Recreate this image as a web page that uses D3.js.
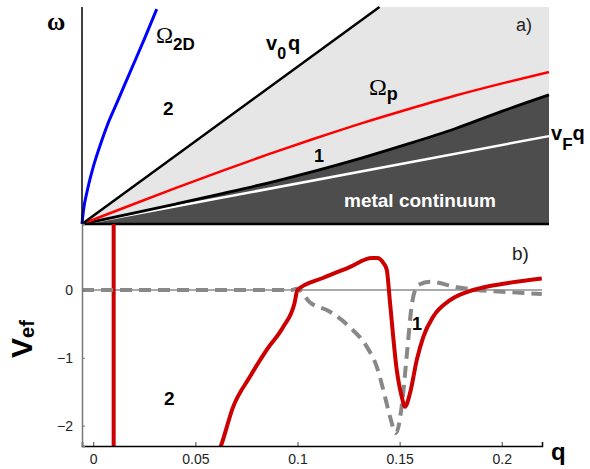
<!DOCTYPE html>
<html>
<head>
<meta charset="utf-8">
<script src="https://cdn.jsdelivr.net/npm/d3@7"></script>
<style>
  body { margin: 0; background: #fff; }
  svg { display: block; font-family: "Liberation Sans", Arial, sans-serif; }
  .tick text { font-size: 14px; fill: #222; }
</style>
</head>
<body>
<svg id="chart" width="590" height="469"></svg>
<script>
// ── Panel a): schematic dispersion (normalised q, omega) ────────────────────
const v0Line     = [[0, 0], [0.637, 1]];
const vFLine     = [[0, 0], [1, 0.405]];
const omegaP     = [[0, 0], [0.1, 0.083], [0.2, 0.165], [0.3, 0.245], [0.4, 0.322],
                    [0.5, 0.395], [0.6, 0.465], [0.7, 0.53], [0.8, 0.592], [0.9, 0.648], [1, 0.70]];
const contEdge   = [[0, 0], [0.1, 0.045], [0.2, 0.092], [0.3, 0.14], [0.4, 0.19],
                    [0.5, 0.245], [0.6, 0.305], [0.7, 0.37], [0.8, 0.44], [0.9, 0.52], [1, 0.595]];
const omega2D    = [[0, 0], [0.003, 0.06], [0.012, 0.16], [0.025, 0.27], [0.04, 0.37],
                    [0.055, 0.46], [0.07, 0.535], [0.09, 0.635], [0.11, 0.735], [0.135, 0.86], [0.16, 0.99]];

// ── Panel b): effective potential vs q ─────────────────────────────────────
const xTicks     = [0, 0.05, 0.1, 0.15, 0.2];
const yTicks     = [-2, -1, 0];
const redCutQ    = 0.01;
const vefRed     = [[0.0605, -2.45], [0.0625, -2.30], [0.0684, -1.73], [0.0767, -1.28], [0.085, -0.88],
                    [0.0929, -0.55], [0.0985, -0.2], [0.1, 0], [0.1127, 0.18], [0.125, 0.33],
                    [0.1365, 0.47], [0.139, 0.47], [0.142, 0.40], [0.1437, 0.30], [0.1453, -0.19],
                    [0.1486, -1.18], [0.151, -1.57], [0.1526, -1.72], [0.1551, -1.52], [0.1584, -1.03],
                    [0.1616, -0.69], [0.1665, -0.39], [0.1747, -0.15], [0.1861, 0.0], [0.2024, 0.10],
                    [0.2196, 0.17]];
const vefGray    = [[-0.0055, 0], [0.05, 0], [0.097, 0], [0.0998, 0.02], [0.106, -0.18], [0.1159, -0.32],
                    [0.1257, -0.55], [0.134, -0.84], [0.1389, -1.14], [0.1429, -1.58], [0.1453, -1.87],
                    [0.1482, -2.11], [0.1512, -1.67], [0.1536, -0.93], [0.1561, -0.19], [0.159, 0.07],
                    [0.1649, 0.12], [0.1781, 0.04], [0.1879, 0.0], [0.2025, -0.03], [0.2196, -0.06]];

const svg = d3.select('#chart');

// ── Scales ─────────────────────────────────────────────────────────────────
const xA = d3.scaleLinear().domain([0, 1]).range([82, 549]);
const yA = d3.scaleLinear().domain([0, 1]).range([224, 7]);
const xB = d3.scaleLinear().domain([-0.0055, 0.2197]).range([82, 542]);
const yB = d3.scaleLinear().domain([-2.30, 0.973]).range([446, 224]);

const lineA = d3.line().x(d => xA(d[0])).y(d => yA(d[1])).curve(d3.curveMonotoneX);
const lineB = d3.line().x(d => xB(d[0])).y(d => yB(d[1])).curve(d3.curveMonotoneX);

svg.append('defs').append('clipPath').attr('id', 'clipB')
  .append('rect')
  .attr('x', xB.range()[0]).attr('y', yB.range()[1])
  .attr('width', xB.range()[1] - xB.range()[0])
  .attr('height', yB.range()[0] - yB.range()[1]);

// ── Panel a) ───────────────────────────────────────────────────────────────
const gA = svg.append('g');

// light region between v0q and continuum edge
const light = [[0, 0], v0Line[1], [1, 1], ...contEdge.slice().reverse()];
gA.append('path')
  .attr('d', d3.line().x(d => xA(d[0])).y(d => yA(d[1]))(light) + 'Z')
  .attr('fill', '#e6e6e6');

// metal continuum
gA.append('path')
  .attr('d', lineA(contEdge) + `L${xA(1)},${yA(0)}Z`)
  .attr('fill', '#4d4d4d');

gA.append('path').attr('d', lineA(vFLine)).attr('fill', 'none')
  .attr('stroke', '#fff').attr('stroke-width', 2.5);
gA.append('path').attr('d', lineA(contEdge)).attr('fill', 'none')
  .attr('stroke', '#000').attr('stroke-width', 2.8);
gA.append('path').attr('d', lineA(omegaP)).attr('fill', 'none')
  .attr('stroke', '#ff0000').attr('stroke-width', 2.5);
gA.append('path').attr('d', lineA(v0Line)).attr('fill', 'none')
  .attr('stroke', '#000').attr('stroke-width', 2.5);
gA.append('path').attr('d', lineA(omega2D)).attr('fill', 'none')
  .attr('stroke', '#0000ff').attr('stroke-width', 3);

// frame of panel a)
gA.append('line').attr('x1', xA(0)).attr('x2', xA(0)).attr('y1', yA(1)).attr('y2', yA(0))
  .attr('stroke', '#000').attr('stroke-width', 1.5);
gA.append('line').attr('x1', xA(0)).attr('x2', xA(1)).attr('y1', yA(0)).attr('y2', yA(0))
  .attr('stroke', '#000').attr('stroke-width', 2.5);

// labels a)
const sym = '"Liberation Serif", "DejaVu Serif", serif';
gA.append('text').attr('x', 47).attr('y', 30).attr('font-family', sym)
  .attr('font-size', 25).attr('font-weight', 'bold').text('ω');

const o2d = gA.append('text').attr('x', 156).attr('y', 43);
o2d.append('tspan').attr('font-family', sym).attr('font-size', 23).text('Ω');
o2d.append('tspan').attr('dy', 7).attr('font-size', 17).attr('font-weight', 'bold').text('2D');

const v0t = gA.append('text').attr('x', 266).attr('y', 50).attr('font-size', 20).attr('font-weight', 'bold');
v0t.append('tspan').text('v');
v0t.append('tspan').attr('dy', 9).attr('font-size', 16).text('0');
v0t.append('tspan').attr('dy', -9).attr('dx', 2).text('q');

const opt = gA.append('text').attr('x', 369).attr('y', 95);
opt.append('tspan').attr('font-family', sym).attr('font-size', 24).text('Ω');
opt.append('tspan').attr('dy', 5).attr('font-size', 18).attr('font-weight', 'bold').text('p');

const vft = gA.append('text').attr('x', 551).attr('y', 140).attr('font-size', 20).attr('font-weight', 'bold');
vft.append('tspan').text('v');
vft.append('tspan').attr('dy', 10).attr('font-size', 17).text('F');
vft.append('tspan').attr('dy', -10).text('q');

gA.append('text').attr('x', 163).attr('y', 115).attr('font-size', 19).attr('font-weight', 'bold').text('2');
gA.append('text').attr('x', 314).attr('y', 162).attr('font-size', 18).attr('font-weight', 'bold').text('1');
gA.append('text').attr('x', 420).attr('y', 207).attr('text-anchor', 'middle')
  .attr('font-size', 19).attr('font-weight', 'bold').attr('fill', '#fff').text('metal continuum');
gA.append('text').attr('x', 516).attr('y', 31).attr('font-size', 18).attr('fill', '#222').text('a)');

// ── Panel b) ───────────────────────────────────────────────────────────────
const gB = svg.append('g');

gB.append('line').attr('x1', xB.range()[0]).attr('x2', xB.range()[1])
  .attr('y1', yB(0)).attr('y2', yB(0)).attr('stroke', '#555').attr('stroke-width', 1);

const plot = gB.append('g').attr('clip-path', 'url(#clipB)');

plot.append('line').attr('x1', xB(redCutQ)).attr('x2', xB(redCutQ))
  .attr('y1', yB.range()[1]).attr('y2', yB.range()[0])
  .attr('stroke', '#cc0000').attr('stroke-width', 4);

plot.append('path').attr('d', lineB(vefGray)).attr('fill', 'none')
  .attr('stroke', '#888').attr('stroke-width', 4).attr('stroke-dasharray', '12,7');

plot.append('path').attr('d', lineB(vefRed)).attr('fill', 'none')
  .attr('stroke', '#cc0000').attr('stroke-width', 4).attr('stroke-linejoin', 'round');

// axes
const axX = gB.append('g').attr('transform', `translate(0,${yB.range()[0]})`)
  .call(d3.axisBottom(xB).tickValues(xTicks).tickSize(-4).tickPadding(8).tickFormat(d3.format('')));
axX.select('.domain').attr('stroke', '#000').attr('stroke-width', 1.5);
axX.selectAll('.tick line').attr('stroke', '#444');

const axY = gB.append('g').attr('transform', `translate(${xB.range()[0]},0)`)
  .call(d3.axisLeft(yB).tickValues(yTicks).tickSize(-3).tickPadding(9).tickFormat(d3.format('')));
axY.select('.domain').attr('stroke', '#777').attr('stroke-width', 1.5);
axY.selectAll('.tick line').attr('stroke', '#777');

// labels b)
gB.append('text').attr('x', 512).attr('y', 260).attr('font-size', 19).attr('fill', '#222').text('b)');
gB.append('text').attr('x', 164).attr('y', 405).attr('font-size', 19).attr('font-weight', 'bold').text('2');
gB.append('text').attr('x', 412).attr('y', 330).attr('font-size', 18).attr('font-weight', 'bold').text('1');
gB.append('text').attr('x', 551).attr('y', 460).attr('font-size', 24).attr('font-weight', 'bold').text('q');

const vef = gB.append('text').attr('transform', 'translate(32,358) rotate(-90)')
  .attr('font-weight', 'bold');
vef.append('tspan').attr('font-size', 30).text('V');
vef.append('tspan').attr('font-size', 20).attr('dy', 2).text('ef');
</script>
</body>
</html>
